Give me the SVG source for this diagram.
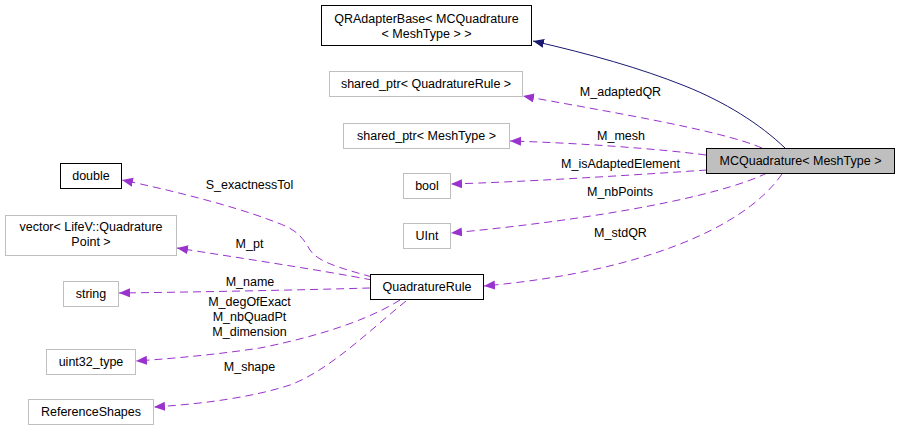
<svg xmlns="http://www.w3.org/2000/svg" width="900" height="431" viewBox="0 0 900 431">
<style>
text{font-family:"Liberation Sans",Arial,sans-serif;font-size:12.5px;fill:#000}
.n{text-anchor:middle}
.bb{fill:#fff;stroke:#000;stroke-width:1}
.bg{fill:#fff;stroke:#bfbfbf;stroke-width:1}
.e{fill:none;stroke:#9a32cd;stroke-width:1;stroke-dasharray:8,5}
.inh{fill:none;stroke:#191970;stroke-width:1}
.l{text-anchor:middle}
</style>
<defs>
<marker id="ap" markerUnits="userSpaceOnUse" markerWidth="12" markerHeight="10" refX="11" refY="4.5" orient="auto"><path d="M0,0 L11,4.5 L0,9 z" fill="#9a32cd"/></marker>
<marker id="an" markerUnits="userSpaceOnUse" markerWidth="12" markerHeight="10" refX="11" refY="4.5" orient="auto"><path d="M0,0 L11,4.5 L0,9 z" fill="#191970"/></marker>
</defs>
<rect width="900" height="431" fill="#fff"/>
<g id="edges">
<path class="inh" d="M785,148 C760,124 725,102 685,86 C640,68 590,54 533,41" marker-end="url(#an)"/>
<path class="e" d="M762,148 C720,130 610,112 523,96" marker-end="url(#ap)"/>
<path class="e" d="M706,155 C660,149 580,143 510,141" marker-end="url(#ap)"/>
<path class="e" d="M707,170 C620,176 520,182 451,184" marker-end="url(#ap)"/>
<path class="e" d="M767,173 C720,196 600,219 451,233" marker-end="url(#ap)"/>
<path class="e" d="M782,174 C745,228 640,272 484,286" marker-end="url(#ap)"/>
<path class="e" d="M372,277 C340,268 318,262 310,250 C300,232 292,228 270,220 C230,205 170,190 122,180" marker-end="url(#ap)"/>
<path class="e" d="M372,280 C320,270 240,258 177,248" marker-end="url(#ap)"/>
<path class="e" d="M370,288 C300,290 200,292 119,293" marker-end="url(#ap)"/>
<path class="e" d="M400,300 C360,325 300,340 260,348 C220,354 180,358 136,361" marker-end="url(#ap)"/>
<path class="e" d="M406,301 C370,330 330,370 290,385 C250,398 200,404 154,407" marker-end="url(#ap)"/>
<text class="l" x="620.5" y="96">M_adaptedQR</text>
<text class="l" x="621" y="140">M_mesh</text>
<text class="l" x="620.5" y="168">M_isAdaptedElement</text>
<text class="l" x="620" y="196">M_nbPoints</text>
<text class="l" x="620.5" y="237">M_stdQR</text>
<text class="l" x="249.5" y="189">S_exactnessTol</text>
<text class="l" x="249.5" y="248">M_pt</text>
<text class="l" x="250" y="286">M_name</text>
<text class="l" x="249.5" y="306">M_degOfExact</text>
<text class="l" x="249.5" y="321">M_nbQuadPt</text>
<text class="l" x="249.5" y="336">M_dimension</text>
<text class="l" x="249.5" y="371">M_shape</text>
</g>
<g id="MCQuadrature"><rect x="706.5" y="148.5" width="188" height="25" fill="#bfbfbf" stroke="#000"/><text class="n" x="800.5" y="165">MCQuadrature&lt; MeshType &gt;</text></g>
<g id="QRAdapterBase"><rect class="bb" x="321.5" y="5.5" width="210" height="40"/><text class="n" x="426.5" y="22.5">QRAdapterBase&lt; MCQuadrature</text><text class="n" x="426.5" y="37.5">&lt; MeshType &gt; &gt;</text></g>
<g id="sharedQR"><rect class="bg" x="329.5" y="71.5" width="193" height="25"/><text class="n" x="426" y="88">shared_ptr&lt; QuadratureRule &gt;</text></g>
<g id="sharedMesh"><rect class="bg" x="343.5" y="123.5" width="166" height="25"/><text class="n" x="426.5" y="140">shared_ptr&lt; MeshType &gt;</text></g>
<g id="bool"><rect class="bg" x="403.5" y="173.5" width="47" height="25"/><text class="n" x="427" y="190">bool</text></g>
<g id="UInt"><rect class="bg" x="403.5" y="223.5" width="47" height="25"/><text class="n" x="427" y="240">UInt</text></g>
<g id="QuadratureRule"><rect class="bb" x="370.5" y="274.5" width="113" height="25"/><text class="n" x="427" y="291">QuadratureRule</text></g>
<g id="double"><rect class="bb" x="60.5" y="163.5" width="61" height="25"/><text class="n" x="91" y="180">double</text></g>
<g id="vector"><rect class="bg" x="5.5" y="215.5" width="171" height="40"/><text class="n" x="91" y="231">vector&lt; LifeV::Quadrature</text><text class="n" x="91" y="246">Point &gt;</text></g>
<g id="string"><rect class="bg" x="63.5" y="281.5" width="55" height="25"/><text class="n" x="91" y="298">string</text></g>
<g id="uint32_type"><rect class="bg" x="46.5" y="349.5" width="89" height="25"/><text class="n" x="91" y="366">uint32_type</text></g>
<g id="ReferenceShapes"><rect class="bg" x="28.5" y="399.5" width="125" height="25"/><text class="n" x="91" y="416">ReferenceShapes</text></g>
</svg>
